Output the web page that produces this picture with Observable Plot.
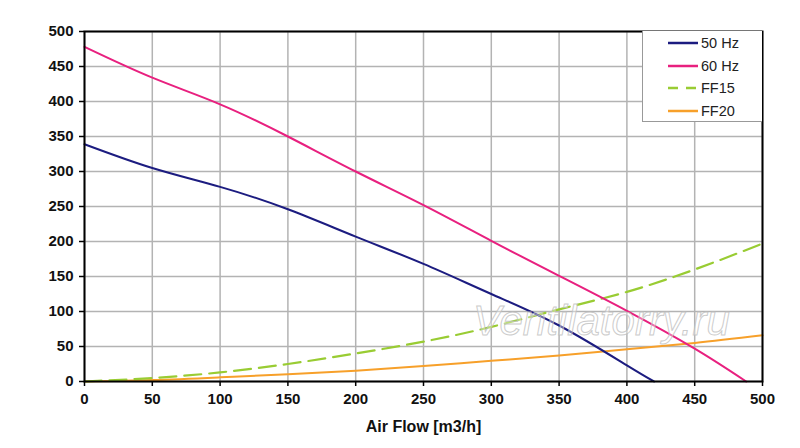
<!DOCTYPE html>
<html>
<head>
<meta charset="utf-8">
<script src="https://cdn.jsdelivr.net/npm/d3@7"></script>
<script src="https://cdn.jsdelivr.net/npm/@observablehq/plot@0.6"></script>
<style>
  body { margin: 0; background: #fff; font-family: "Liberation Sans", Arial, sans-serif; }
  #wrap { position: relative; width: 800px; height: 448px; }
  #wrap > svg text { font-weight: bold !important; fill: #111; }
  #legend { position: absolute; left: 642px; top: 31px; width: 120px; height: 91px; background: #fff; border: 1px solid #999; border-right: none; border-top: none; box-sizing: border-box; }
  #legend .row { position: absolute; left: 25px; height: 20px; display: flex; align-items: center; font-size: 14.5px; color: #222; }
  #legend svg { margin-right: 3px; }
  #wm { position: absolute; left: 473px; top: 297px; font-size: 42px; line-height: 48px; font-style: italic; color: rgba(255,255,255,0.35); -webkit-text-stroke: 1px rgba(190,190,190,0.8); pointer-events: none; white-space: nowrap; }
</style>
</head>
<body>
<div id="wrap"></div>
<script>
const flow50 = [0, 50, 100, 150, 200, 250, 300, 350, 400, 420];
const press50 = [339, 305, 278, 246, 207, 168, 125, 80, 23, 0];
const flow60 = [0, 50, 100, 150, 200, 250, 300, 350, 400, 450, 488];
const press60 = [478, 434, 396, 350, 300, 252, 201, 151, 101, 47, 0];
const flowFF = [0, 50, 100, 150, 200, 250, 300, 350, 400, 450, 500];
const pressFF15 = [0, 5, 13, 25, 40, 57, 78, 103, 128, 160, 197];
const pressFF20 = [0, 2, 6, 10.5, 15.5, 22, 29.5, 37, 46, 55, 66];
const seriesNames = ["50 Hz", "60 Hz", "FF15", "FF20"];
const seriesColors = ["#1c1c80", "#e8207f", "#99cc33", "#f7a02a"];
const ticks = [0, 50, 100, 150, 200, 250, 300, 350, 400, 450, 500];
const xLabel = "Air Flow [m3/h]";

const mk = (xs, ys, name) => xs.map((x, i) => ({x, y: ys[i], name}));
const d50 = mk(flow50, press50, seriesNames[0]);
const d60 = mk(flow60, press60, seriesNames[1]);
const d15 = mk(flowFF, pressFF15, seriesNames[2]);
const d20 = mk(flowFF, pressFF20, seriesNames[3]);

const chart = Plot.plot({
  width: 800, height: 448,
  marginLeft: 84, marginRight: 38, marginTop: 31, marginBottom: 67,
  style: {background: "transparent", fontFamily: "'Liberation Sans', Arial, sans-serif", fontSize: "15px", color: "#111"},
  x: {domain: [0, 500]},
  y: {domain: [0, 500]},
  marks: [
    Plot.gridX(ticks, {stroke: "#b3b3b3", strokeOpacity: 1, strokeWidth: 1.5}),
    Plot.gridY(ticks, {stroke: "#b3b3b3", strokeOpacity: 1, strokeWidth: 1.5}),
    Plot.line(d20, {x: "x", y: "y", stroke: seriesColors[3], strokeWidth: 2, curve: "natural"}),
    Plot.line(d15, {x: "x", y: "y", stroke: seriesColors[2], strokeWidth: 2.2, strokeDasharray: "17,8", curve: "natural"}),
    Plot.line(d50, {x: "x", y: "y", stroke: seriesColors[0], strokeWidth: 2, curve: "natural"}),
    Plot.line(d60, {x: "x", y: "y", stroke: seriesColors[1], strokeWidth: 2, curve: "natural"}),
    Plot.frame({stroke: "#000", strokeWidth: 2}),
    Plot.axisY({ticks, tickSize: 5, tickPadding: 6, stroke: "#000", strokeWidth: 1.5, label: null, fontSize: 15, fontWeight: "bold"}),
    Plot.axisX({ticks, tickSize: 5, tickPadding: 7, stroke: "#000", strokeWidth: 1.5, label: null, fontSize: 15, fontWeight: "bold"}),
    Plot.axisX({ticks: [], tickSize: 0, label: xLabel, labelAnchor: "center", labelArrow: "none", labelOffset: 50, fontSize: 16, fontWeight: "bold"})
  ]
});
const wrap = document.getElementById("wrap");
wrap.appendChild(chart);

const wm = document.createElement("div");
wm.id = "wm";
wm.textContent = "Ventilatorry.ru";
wrap.appendChild(wm);

const legend = document.createElement("div");
legend.id = "legend";
seriesNames.forEach((n, i) => {
  const row = document.createElement("div");
  row.className = "row";
  row.style.top = (2 + i * 22.5) + "px";
  const dash = i === 2 ? 'stroke-dasharray="10,8"' : "";
  row.innerHTML = `<svg width="30" height="6"><line x1="0" y1="3" x2="30" y2="3" stroke="${seriesColors[i]}" stroke-width="2.5" ${dash}/></svg><span>${n}</span>`;
  legend.appendChild(row);
});
wrap.appendChild(legend);
</script>
</body>
</html>
